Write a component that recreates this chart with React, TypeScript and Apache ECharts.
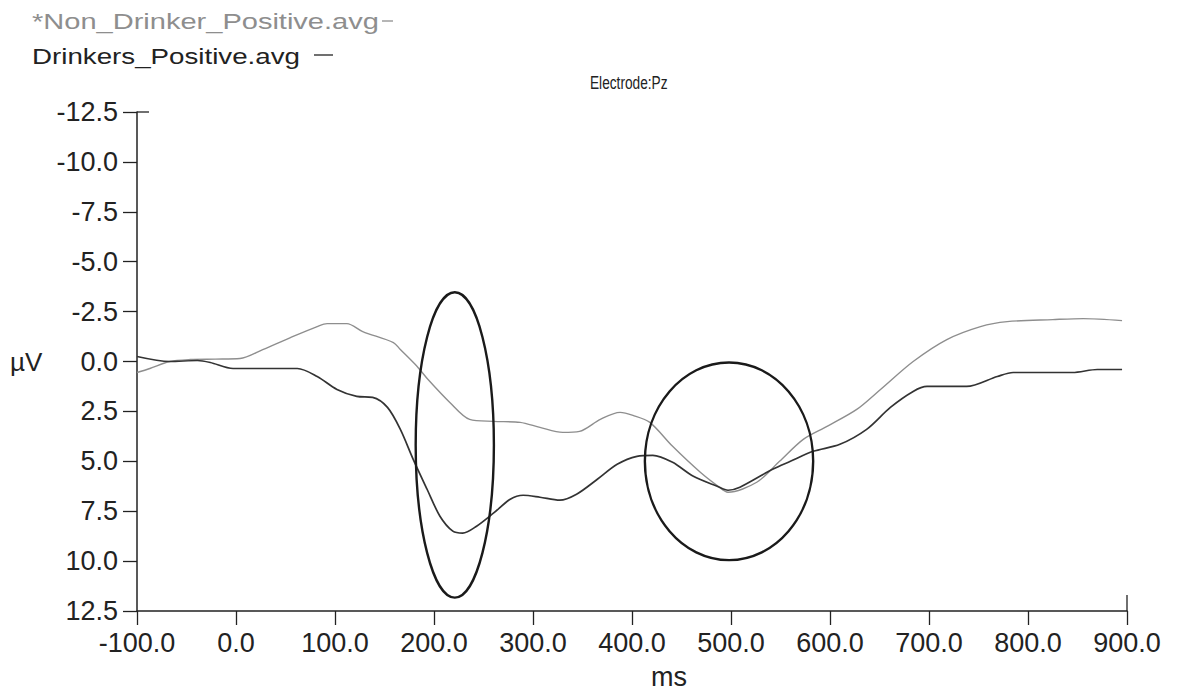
import React, { useEffect, useRef } from "react";
import * as echarts from "echarts";

// ---- data ----
const nonDrinkerMs = [-100, -87, -67, -46, -21, 4, 27, 55, 82, 92, 112, 128, 159, 166, 183, 194, 216, 236, 260, 287, 307, 330, 347, 368, 388, 401, 418, 441, 469, 487, 497, 526, 549, 573, 597, 627, 651, 684, 718, 752, 779, 825, 856, 895];
const nonDrinkerUv = [0.55, 0.35, 0.0, -0.1, -0.12, -0.15, -0.6, -1.2, -1.75, -1.9, -1.9, -1.5, -0.95, -0.6, 0.25, 0.9, 2.05, 2.9, 3.0, 3.05, 3.3, 3.55, 3.5, 2.9, 2.55, 2.7, 3.05, 4.25, 5.55, 6.25, 6.55, 6.05, 5.0, 3.9, 3.25, 2.4, 1.4, 0.0, -1.1, -1.75, -2.0, -2.1, -2.15, -2.05];

const drinkerMs = [-100, -67, -39, -26, -3, 31, 62, 82, 102, 122, 138, 153, 166, 179, 193, 206, 219, 229, 243, 260, 277, 290, 307, 327, 344, 365, 385, 405, 421, 441, 462, 486, 497, 509, 542, 560, 583, 610, 637, 661, 684, 698, 738, 769, 785, 845, 870, 895];
const drinkerUv = [-0.25, 0.0, -0.05, 0.05, 0.35, 0.35, 0.35, 0.75, 1.4, 1.75, 1.8, 2.3, 3.4, 4.9, 6.4, 7.75, 8.5, 8.6, 8.25, 7.6, 6.9, 6.7, 6.8, 6.95, 6.65, 5.9, 5.15, 4.75, 4.7, 5.05, 5.75, 6.25, 6.45, 6.3, 5.4, 5.0, 4.5, 4.15, 3.4, 2.3, 1.5, 1.25, 1.25, 0.75, 0.55, 0.55, 0.4, 0.4];

// highlighted regions: centre (ms, µV) and half-extent (ms, µV)
const ellipseCenterMs = [221, 498];
const ellipseCenterUv = [4.18, 5.0];
const ellipseHalfMs = [39.5, 85];
const ellipseHalfUv = [7.65, 4.95];

const seriesNames = ["*Non_Drinker_Positive.avg", "Drinkers_Positive.avg"];
const chartTitle = "Electrode:Pz";
const xName = "ms";
const yName = "µV";
const xMin = -100, xMax = 900, xStep = 100;
const yMin = -12.5, yMax = 12.5, yStep = 2.5;

const FONT = "'Liberation Sans', Arial, sans-serif";
const GREY = "#8e8e8e";
const DARK = "#333333";

export default function App() {
  const ref = useRef<HTMLDivElement>(null);
  useEffect(() => {
    if (!ref.current) return;
    const chart = echarts.init(ref.current, null, { renderer: "svg" });
    const option: any = {
      animation: false,
      backgroundColor: "#ffffff",
      grid: { left: 137, right: 50, top: 112, bottom: 81, containLabel: false },
      xAxis: {
        type: "value",
        min: xMin,
        max: xMax,
        interval: xStep,
        splitLine: { show: false },
        axisLine: { show: true, onZero: false, lineStyle: { color: "#222", width: 1.5 } },
        axisTick: { show: true, inside: false, length: 14, lineStyle: { color: "#222", width: 1.3 } },
        axisLabel: {
          margin: 18,
          color: "#222",
          fontSize: 27,
          fontFamily: FONT,
          formatter: (v: number) => v.toFixed(1),
        },
      },
      yAxis: {
        type: "value",
        inverse: true,
        min: yMin,
        max: yMax,
        interval: yStep,
        splitLine: { show: false },
        axisLine: { show: true, onZero: false, lineStyle: { color: "#222", width: 1.5 } },
        axisTick: { show: true, inside: false, length: 14, lineStyle: { color: "#222", width: 1.3 } },
        axisLabel: {
          margin: 19,
          color: "#222",
          fontSize: 27,
          fontFamily: FONT,
          formatter: (v: number) => v.toFixed(1),
        },
      },
      series: [
        {
          name: seriesNames[0],
          type: "line",
          data: nonDrinkerMs.map((m, i) => [m, nonDrinkerUv[i]]),
          showSymbol: false,
          smooth: 0.3,
          lineStyle: { color: GREY, width: 1.4 },
          z: 2,
        },
        {
          name: seriesNames[1],
          type: "line",
          data: drinkerMs.map((m, i) => [m, drinkerUv[i]]),
          showSymbol: false,
          smooth: 0.3,
          lineStyle: { color: DARK, width: 1.7 },
          z: 3,
        },
        {
          type: "custom",
          coordinateSystem: "cartesian2d",
          silent: true,
          clip: false,
          z: 4,
          encode: { x: 0, y: 1 },
          data: ellipseCenterMs.map((m, i) => [m, ellipseCenterUv[i], ellipseHalfMs[i], ellipseHalfUv[i]]),
          renderItem: (params: any, api: any) => {
            const c = api.coord([api.value(0), api.value(1)]);
            const s = api.size([api.value(2), api.value(3)]);
            return {
              type: "ellipse",
              shape: { cx: c[0], cy: c[1], rx: Math.abs(s[0]), ry: Math.abs(s[1]) },
              style: { fill: "none", stroke: "#1a1a1a", lineWidth: 2.4 },
            };
          },
        },
      ],
    };
    chart.setOption(option);

    const topLeft = chart.convertToPixel({ gridIndex: 0 }, [xMin, yMin]) as number[];
    const bottomRight = chart.convertToPixel({ gridIndex: 0 }, [xMax, yMax]) as number[];

    const graphic: any[] = [
      {
        type: "text",
        x: 32,
        y: 21,
        scaleX: 1.32,
        style: { text: seriesNames[0], fontSize: 22, fontFamily: FONT, fill: GREY, textAlign: "left", textVerticalAlign: "middle" },
      },
      { type: "line", shape: { x1: 382, y1: 21, x2: 393, y2: 21 }, style: { stroke: GREY, lineWidth: 1.3 } },
      {
        type: "text",
        x: 32,
        y: 56,
        scaleX: 1.26,
        style: { text: seriesNames[1], fontSize: 22, fontFamily: FONT, fill: "#222", textAlign: "left", textVerticalAlign: "middle" },
      },
      { type: "line", shape: { x1: 314, y1: 55, x2: 333, y2: 55 }, style: { stroke: "#222", lineWidth: 1.3 } },
      {
        type: "text",
        x: 590,
        y: 83,
        scaleX: 0.72,
        style: { text: chartTitle, fontSize: 19, fontFamily: FONT, fill: "#222", textAlign: "left", textVerticalAlign: "middle" },
      },
      {
        type: "text",
        x: 669,
        y: 677,
        style: { text: xName, fontSize: 27, fontFamily: FONT, fill: "#222", textAlign: "center", textVerticalAlign: "middle" },
      },
      {
        type: "text",
        x: 10,
        y: 362,
        style: { text: yName, fontSize: 26, fontFamily: FONT, fill: "#222", textAlign: "left", textVerticalAlign: "middle" },
      },
      // extra tick at the top of the y axis extending into the plot
      { type: "line", shape: { x1: topLeft[0], y1: topLeft[1], x2: topLeft[0] + 12, y2: topLeft[1] }, style: { stroke: "#222", lineWidth: 1.3 } },
      // extra tick at the right end of the x axis extending upward
      { type: "line", shape: { x1: bottomRight[0], y1: bottomRight[1], x2: bottomRight[0], y2: bottomRight[1] - 16 }, style: { stroke: "#222", lineWidth: 1.3 } },
    ];
    chart.setOption({ graphic });

    return () => chart.dispose();
  }, []);

  return (
    <div
      ref={ref}
      style={{ position: "absolute", left: 0, top: 0, width: 1177, height: 692, background: "#fff" }}
    />
  );
}
